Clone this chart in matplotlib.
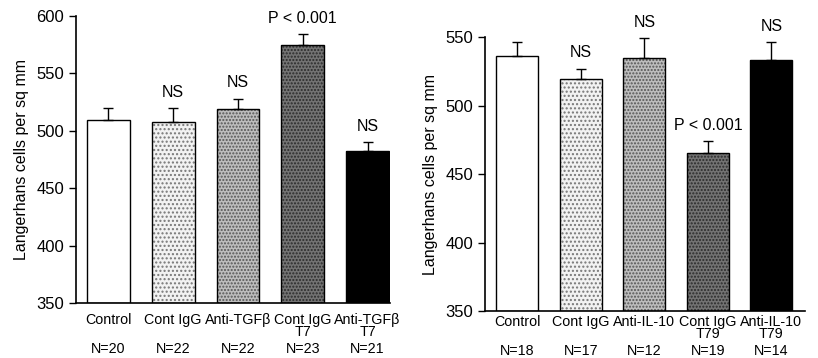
import numpy as np
import matplotlib.pyplot as plt

plt.rcParams['font.family'] = ['Liberation Sans', 'DejaVu Sans']

# left panel (TGF-beta)
left_labels = ["Control", "Cont IgG", "Anti-TGFβ", "Cont IgG\nT7", "Anti-TGFβ\nT7"]
left_n = ["N=20", "N=22", "N=22", "N=23", "N=21"]
left_mean = [509, 508, 519, 575, 482]
left_err = [11, 12, 9, 9, 8]
left_note = ["", "NS", "NS", "P < 0.001", "NS"]

# right panel (IL-10)
right_labels = ["Control", "Cont IgG", "Anti-IL-10", "Cont IgG\nT79", "Anti-IL-10\nT79"]
right_n = ["N=18", "N=17", "N=12", "N=19", "N=14"]
right_mean = [536, 519, 535, 465, 533]
right_err = [10, 8, 14, 9, 13]
right_note = ["", "NS", "NS", "P < 0.001", "NS"]

# fill styles: (face, hatch, hatch colour)
STYLES = [("white", None, None),
          ("#f2f2f2", "....", "#777777"),
          ("#bdbdbd", ".....", "#555555"),
          ("#737373", ".....", "#2a2a2a"),
          ("black", None, None)]


def panel(ax, labels, ns, mean, err, notes, ylim, yticks, xlim, lab_pad, n_off):
    x = np.arange(len(mean))
    for i in range(len(mean)):
        face, hatch, hc = STYLES[i]
        base = ylim[0]
        ax.bar(x[i], mean[i] - base, bottom=base, width=0.66, color=face,
               hatch=hatch, edgecolor=hc if hc else face, linewidth=0, zorder=2)
        ax.bar(x[i], mean[i] - base, bottom=base, width=0.66, facecolor="none",
               edgecolor="black", linewidth=1.0, zorder=3)
    ax.errorbar(x, mean, yerr=[np.zeros(len(err)), err], fmt="none",
                ecolor="black", elinewidth=1.0, capsize=3.5, capthick=1.0, zorder=4)
    for i, t in enumerate(notes):
        if t:
            ax.annotate(t, (x[i], mean[i] + err[i]), xytext=(0, 6),
                        textcoords="offset points", ha="center", va="bottom",
                        fontsize=11.5)
    ax.set_ylim(*ylim)
    ax.set_xlim(*xlim)
    ax.set_yticks(yticks)
    ax.set_xticks(x)
    ax.set_xticklabels(labels, fontsize=10.3, linespacing=0.8)
    ax.tick_params(axis="x", length=0, pad=lab_pad)
    ax.tick_params(axis="y", length=5, width=1, labelsize=12)
    for s in ("top", "right"):
        ax.spines[s].set_visible(False)
    for s in ("left", "bottom"):
        ax.spines[s].set_linewidth(1.2)
    ax.set_ylabel("Langerhans cells per sq mm", fontsize=11.5, labelpad=5)
    for i, t in enumerate(ns):
        ax.annotate(t, (x[i], 0), xycoords=ax.get_xaxis_transform(),
                    xytext=(0, -n_off), textcoords="offset pixels",
                    ha="center", va="center", fontsize=10.3)


fig = plt.figure(figsize=(8.18, 3.58), dpi=100)
ax1 = fig.add_axes([0.0929, 0.1536, 0.3841, 0.8017])
ax2 = fig.add_axes([0.5929, 0.1313, 0.3912, 0.7653])

panel(ax1, left_labels, left_n, left_mean, left_err, left_note,
      (350, 600), [350, 400, 450, 500, 550, 600], (-0.50, 4.35), 7, 46)
panel(ax2, right_labels, right_n, right_mean, right_err, right_note,
      (350, 550), [350, 400, 450, 500, 550], (-0.51, 4.53), 3, 40)

fig.savefig("out.png", dpi=100, facecolor="white")
